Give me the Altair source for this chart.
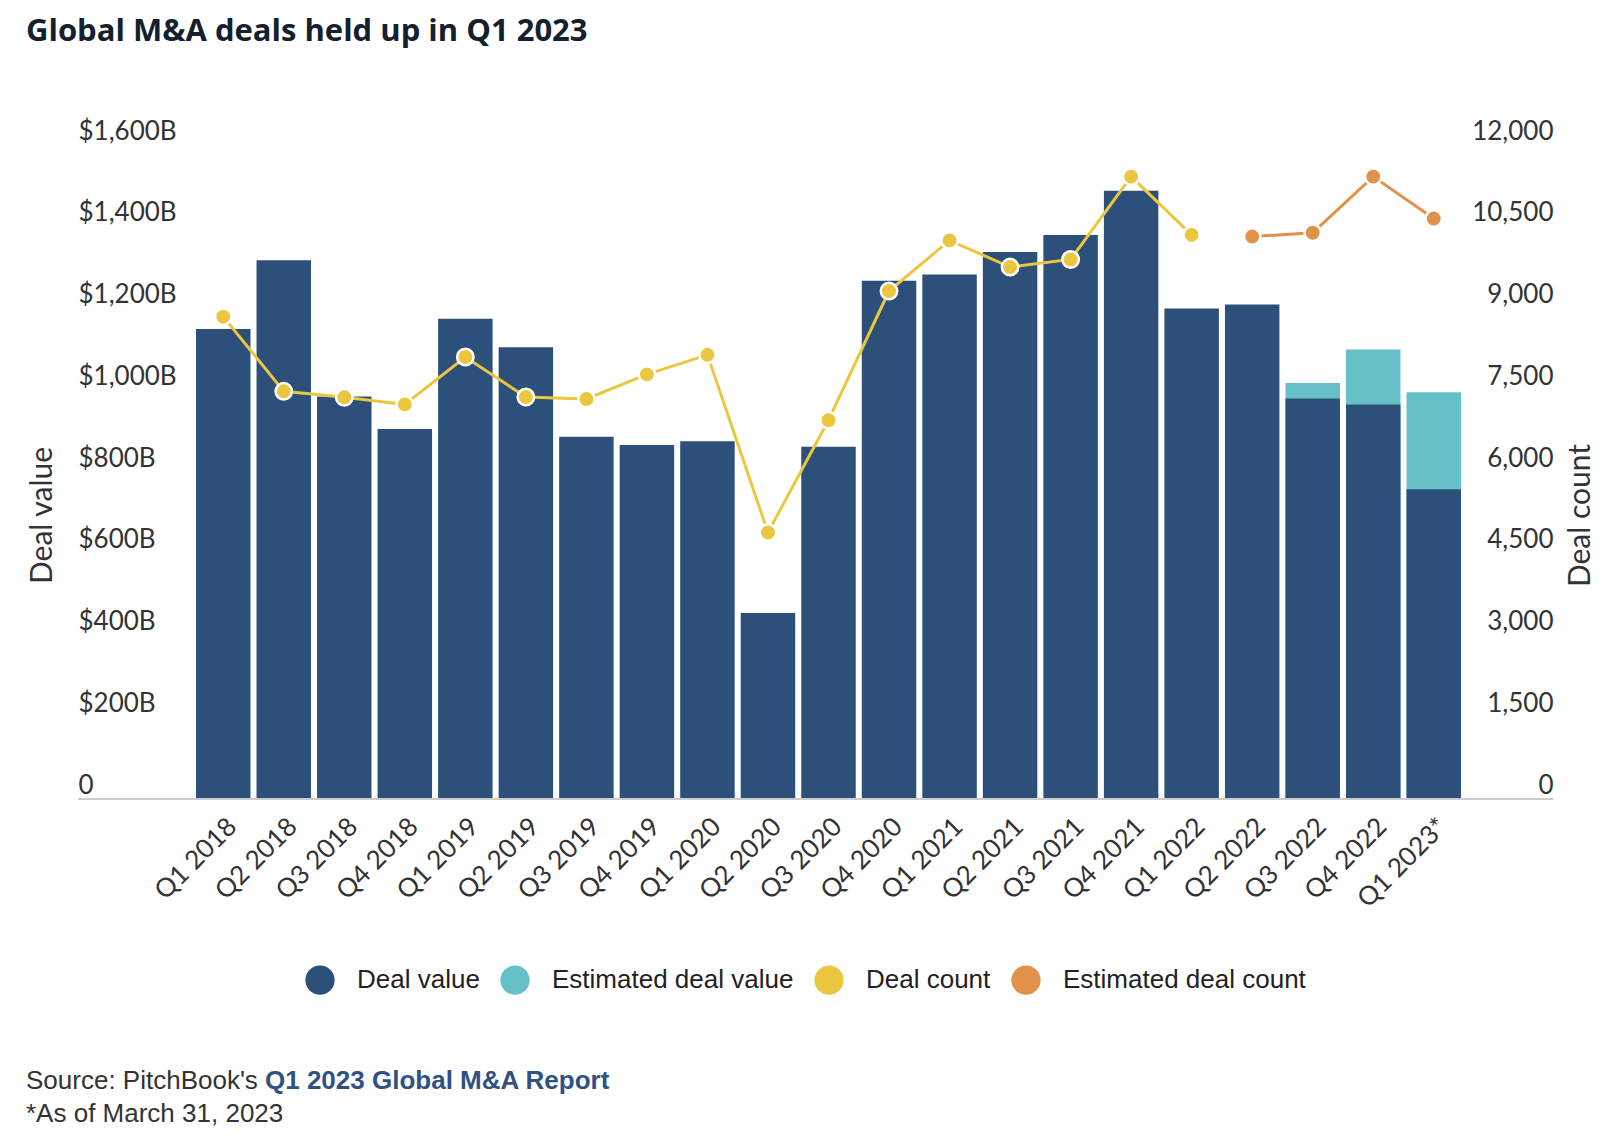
import altair as alt
import pandas as pd

quarters = ["Q1 2018", "Q2 2018", "Q3 2018", "Q4 2018",
            "Q1 2019", "Q2 2019", "Q3 2019", "Q4 2019",
            "Q1 2020", "Q2 2020", "Q3 2020", "Q4 2020",
            "Q1 2021", "Q2 2021", "Q3 2021", "Q4 2021",
            "Q1 2022", "Q2 2022", "Q3 2022", "Q4 2022", "Q1 2023*"]
deal_value = [1150, 1318, 985, 905, 1175, 1105, 886, 866, 875, 455, 862,
              1268, 1283, 1338, 1380, 1488, 1200, 1210, 980, 965, 758]

est_quarters = ["Q3 2022", "Q4 2022", "Q1 2023*"]
estimated_deal_value = [1018, 1100, 995]

count_quarters = quarters[:17]
deal_count = [8850, 7480, 7370, 7240, 8110, 7375, 7340, 7790, 8150, 4890,
              6950, 9320, 10250, 9760, 9900, 11420, 10350]

est_count_quarters = ["Q2 2022", "Q3 2022", "Q4 2022", "Q1 2023*"]
estimated_deal_count = [10320, 10390, 11420, 10650]

series_names = ["Deal value", "Estimated deal value", "Deal count", "Estimated deal count"]
series_colors = ["#2c5079", "#66c0c8", "#ebc740", "#e0914a"]

df_val = pd.DataFrame({"quarter": quarters, "value": deal_value, "series": "Deal value"})
df_est = pd.DataFrame({"quarter": est_quarters, "value": estimated_deal_value,
                       "series": "Estimated deal value"})
df_cnt = pd.DataFrame({"quarter": count_quarters, "count": deal_count, "series": "Deal count"})
df_ecnt = pd.DataFrame({"quarter": est_count_quarters, "count": estimated_deal_count,
                        "series": "Estimated deal count"})

AXIS_FONT = "Lato"
TEXT_COLOR = "#333333"
PLOT_W = 1475
PLOT_H = 654

x_enc = alt.X(
    "quarter:N", sort=quarters,
    scale=alt.Scale(domain=quarters, range=[118, 1383], paddingInner=0.1, paddingOuter=0),
    axis=alt.Axis(title=None, labelAngle=315, labelFont=AXIS_FONT, labelFontSize=26,
                  labelColor=TEXT_COLOR, ticks=False, tickSize=0, labelPadding=14,
                  domain=False, grid=False),
)

color_scale = alt.Scale(domain=series_names, range=series_colors)

y_val = alt.Y(
    "value:Q",
    scale=alt.Scale(domain=[0, 1600], nice=False),
    axis=alt.Axis(title="Deal value", orient="left", values=list(range(0, 1601, 200)),
                  labelExpr="datum.value == 0 ? '0' : '$' + format(datum.value, ',') + 'B'",
                  labelAlign="left", labelBaseline="bottom", labelPadding=0, labelOffset=-1,
                  ticks=False, tickSize=0, domain=False, grid=False,
                  labelFont=AXIS_FONT, labelFontSize=26, labelColor=TEXT_COLOR,
                  titleFont=AXIS_FONT, titleFontSize=30, titleFontWeight="normal",
                  titleColor=TEXT_COLOR, titleAngle=270, titleBaseline="middle",
                  titleX=-36, titleY=370),
)

y_cnt = alt.Y(
    "count:Q",
    scale=alt.Scale(domain=[0, 12000], nice=False),
    axis=alt.Axis(title="Deal count", orient="right", values=list(range(0, 12001, 1500)),
                  labelExpr="format(datum.value, ',')",
                  labelAlign="right", labelBaseline="bottom", labelPadding=0,
                  labelOffset=-1, ticks=False, tickSize=0, domain=False, grid=False,
                  labelFont=AXIS_FONT, labelFontSize=26, labelColor=TEXT_COLOR,
                  titleFont=AXIS_FONT, titleFontSize=30, titleFontWeight="normal",
                  titleColor=TEXT_COLOR, titleAngle=270, titleBaseline="middle",
                  titleX=27, titleY=370),
)

legend = alt.Legend(title=None, orient="none", direction="horizontal",
                    legendX=227, legendY=820, padding=0,
                    symbolType="circle", symbolSize=855, symbolStrokeWidth=0,
                    labelFont="Liberation Sans", labelFontSize=26, labelColor="#222222",
                    labelOffset=22, columnPadding=20, labelLimit=400)

# baseline (x-axis line) spanning the whole plot width at value 0
baseline = alt.Chart(pd.DataFrame({"v": [0]})).mark_rule(color="#cccccc", strokeWidth=2).encode(
    y=alt.Y("v:Q", scale=alt.Scale(domain=[0, 1600], nice=False)),
    x=alt.value(0), x2=alt.value(PLOT_W),
)

est_bars = alt.Chart(df_est).mark_bar().encode(
    x=x_enc, y=y_val,
    color=alt.Color("series:N", scale=color_scale, legend=legend),
)
val_bars = alt.Chart(df_val).mark_bar().encode(
    x=x_enc, y=y_val,
    color=alt.Color("series:N", scale=color_scale, legend=legend),
)

cnt_line = alt.Chart(df_cnt).mark_line(strokeWidth=3).encode(
    x=x_enc, y=y_cnt, color=alt.Color("series:N", scale=color_scale, legend=legend))
cnt_pts = alt.Chart(df_cnt).mark_circle(size=270, opacity=1, stroke="white", strokeWidth=2.5).encode(
    x=x_enc, y=y_cnt, color=alt.Color("series:N", scale=color_scale, legend=legend))
ecnt_line = alt.Chart(df_ecnt).mark_line(strokeWidth=3).encode(
    x=x_enc, y=y_cnt, color=alt.Color("series:N", scale=color_scale, legend=legend))
ecnt_pts = alt.Chart(df_ecnt).mark_circle(size=270, opacity=1, stroke="white", strokeWidth=2.5).encode(
    x=x_enc, y=y_cnt, color=alt.Color("series:N", scale=color_scale, legend=legend))

source_prefix = ["Source: PitchBook's"]
source_link = ["Q1 2023 Global M&A Report"]
footnote = ["*As of March 31, 2023"]

src1 = alt.Chart(pd.DataFrame({"t": source_prefix})).mark_text(
    align="left", baseline="middle", font="Liberation Sans", fontSize=26, color="#333333"
).encode(text="t:N", x=alt.value(-52), y=alt.value(936))
src2 = alt.Chart(pd.DataFrame({"t": source_link})).mark_text(
    align="left", baseline="middle", font="Liberation Sans", fontSize=26, fontWeight="bold",
    color="#2f5282"
).encode(text="t:N", x=alt.value(187), y=alt.value(936))
src3 = alt.Chart(pd.DataFrame({"t": footnote})).mark_text(
    align="left", baseline="middle", font="Liberation Sans", fontSize=26, color="#333333"
).encode(text="t:N", x=alt.value(-52), y=alt.value(969))

left = alt.layer(est_bars, val_bars, baseline)
right = alt.layer(cnt_line, cnt_pts, ecnt_line, ecnt_pts)

chart = alt.layer(left, right, src1, src2, src3).resolve_scale(y="independent").properties(
    width=PLOT_W, height=PLOT_H,
    background="white",
    autosize=alt.AutoSizeParams(type="none"),
    padding={"left": 70, "top": 137, "right": 41, "bottom": 329},
    title=alt.TitleParams("Global M&A deals held up in Q1 2023", anchor="start", frame="group",
                          dx=-52, fontSize=31, font="Open Sans", fontWeight="bold",
                          color="#15202e", offset=70),
).configure_view(stroke="transparent", strokeWidth=0)

chart.save("out.html", embed_options={"renderer": "svg", "actions": False})
